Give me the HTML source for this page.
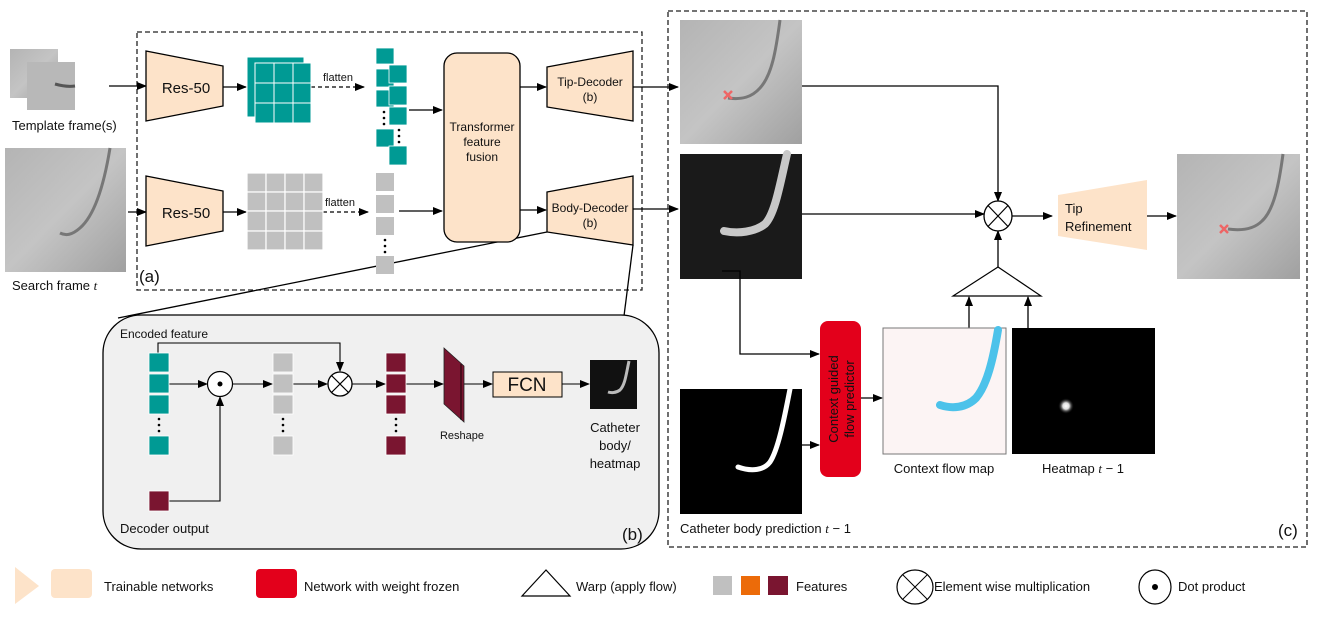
<!DOCTYPE html>
<html><head><meta charset="utf-8"><style>
html,body{margin:0;padding:0;background:#fff}
svg{display:block}
text{font-family:"Liberation Sans",Arial,sans-serif;fill:#111}
</style></head><body>
<svg width="1331" height="620" viewBox="0 0 1331 620" xmlns="http://www.w3.org/2000/svg">
<defs>
<marker id="ar" markerWidth="10" markerHeight="10" refX="9" refY="5" orient="auto" markerUnits="userSpaceOnUse">
<path d="M0,1 L10,5 L0,9 z" fill="#000"/></marker>
<radialGradient id="glow"><stop offset="0" stop-color="#fff"/><stop offset="0.4" stop-color="#ddd"/><stop offset="1" stop-color="#000" stop-opacity="0"/></radialGradient>
<linearGradient id="xr" x1="0" y1="0" x2="1" y2="1"><stop offset="0" stop-color="#b4b4b4"/><stop offset="0.5" stop-color="#c4c4c4"/><stop offset="1" stop-color="#a0a0a0"/></linearGradient>
<g id="otimes"><ellipse cx="0" cy="0" rx="12" ry="12" fill="#fff" stroke="#000" stroke-width="1.3"/><path d="M-8.5,-8.5 L8.5,8.5 M8.5,-8.5 L-8.5,8.5" stroke="#000" stroke-width="1.2"/></g>
</defs>

<!-- Panel (a) -->
<rect x="137" y="32" width="505" height="258" fill="none" stroke="#222" stroke-width="1.3" stroke-dasharray="5,3"/>
<text x="139" y="282" font-size="17">(a)</text>

<!-- template images -->
<rect x="10" y="49" width="48" height="49" fill="url(#xr)"/>
<rect x="27" y="62" width="48" height="48" fill="#b8b8b8"/>
<path d="M55,84 C62,86 68,87 75,86" stroke="#555" stroke-width="3" fill="none"/>
<text x="12" y="130" font-size="13">Template frame(s)</text>
<!-- search image -->
<rect x="5" y="148" width="121" height="124" fill="url(#xr)"/>
<path d="M110,148 C104,185 95,215 80,228 C72,235 66,236 60,233" stroke="#777" stroke-width="3" fill="none"/>
<text x="12" y="290" font-size="13">Search frame <tspan font-family="Liberation Serif" font-style="italic">t</tspan></text>

<g stroke="#000" stroke-width="1.3" fill="none">
<line x1="109" y1="86" x2="146" y2="86" marker-end="url(#ar)"/>
<line x1="128" y1="212" x2="146" y2="212" marker-end="url(#ar)"/>
<line x1="223" y1="87" x2="246" y2="87" marker-end="url(#ar)"/>
<line x1="223" y1="212" x2="246" y2="212" marker-end="url(#ar)"/>
<line x1="311" y1="87" x2="364" y2="87" stroke-dasharray="4,3" marker-end="url(#ar)"/>
<line x1="323" y1="212" x2="368" y2="212" stroke-dasharray="4,3" marker-end="url(#ar)"/>
<line x1="409" y1="110" x2="442" y2="110" marker-end="url(#ar)"/>
<line x1="399" y1="211" x2="442" y2="211" marker-end="url(#ar)"/>
<line x1="520" y1="87" x2="546" y2="87" marker-end="url(#ar)"/>
<line x1="520" y1="210" x2="546" y2="210" marker-end="url(#ar)"/>
<line x1="633" y1="87" x2="678" y2="87" marker-end="url(#ar)"/>
<line x1="633" y1="209" x2="678" y2="209" marker-end="url(#ar)"/>
<line x1="547" y1="232" x2="118" y2="318"/>
<line x1="633" y1="245" x2="624" y2="316"/>
</g>

<!-- Res-50 -->
<polygon points="146,51 223,66 223,106 146,121" fill="#fde3c9" stroke="#000" stroke-width="1.3"/>
<text x="186" y="93" font-size="15" text-anchor="middle">Res-50</text>
<polygon points="146,176 223,191 223,231 146,246" fill="#fde3c9" stroke="#000" stroke-width="1.3"/>
<text x="186" y="218" font-size="15" text-anchor="middle">Res-50</text>

<!-- teal grids -->
<g fill="#009a94" stroke="#fff" stroke-width="1">
<rect x="247" y="57" width="57" height="60"/>
<rect x="255" y="63" width="19" height="20"/><rect x="274" y="63" width="19" height="20"/><rect x="293" y="63" width="18" height="20"/>
<rect x="255" y="83" width="19" height="20"/><rect x="274" y="83" width="19" height="20"/><rect x="293" y="83" width="18" height="20"/>
<rect x="255" y="103" width="19" height="20"/><rect x="274" y="103" width="19" height="20"/><rect x="293" y="103" width="18" height="20"/>
</g>
<text x="323" y="81" font-size="11">flatten</text>
<!-- gray grid -->
<g fill="#c0c0c0" stroke="#fff" stroke-width="1.2">
<rect x="247" y="173" width="19" height="19"/><rect x="266" y="173" width="19" height="19"/><rect x="285" y="173" width="19" height="19"/><rect x="304" y="173" width="19" height="19"/>
<rect x="247" y="192" width="19" height="19"/><rect x="266" y="192" width="19" height="19"/><rect x="285" y="192" width="19" height="19"/><rect x="304" y="192" width="19" height="19"/>
<rect x="247" y="211" width="19" height="20"/><rect x="266" y="211" width="19" height="20"/><rect x="285" y="211" width="19" height="20"/><rect x="304" y="211" width="19" height="20"/>
<rect x="247" y="231" width="19" height="19"/><rect x="266" y="231" width="19" height="19"/><rect x="285" y="231" width="19" height="19"/><rect x="304" y="231" width="19" height="19"/>
</g>
<text x="325" y="206" font-size="11">flatten</text>

<!-- teal columns -->
<g fill="#009a94" stroke="#fff" stroke-width="0.8">
<rect x="376" y="48" width="18" height="16"/><rect x="376" y="69" width="18" height="18"/><rect x="376" y="90" width="18" height="17"/><rect x="376" y="129" width="18" height="18"/>
<rect x="389" y="65" width="18" height="18"/><rect x="389" y="86" width="18" height="19"/><rect x="389" y="107" width="18" height="18"/><rect x="389" y="146" width="18" height="19"/>
</g>
<g fill="#000"><circle cx="384" cy="112" r="1.3"/><circle cx="384" cy="118" r="1.3"/><circle cx="384" cy="124" r="1.3"/>
<circle cx="399" cy="130" r="1.3"/><circle cx="399" cy="136" r="1.3"/><circle cx="399" cy="142" r="1.3"/></g>
<!-- gray column -->
<g fill="#c0c0c0"><rect x="376" y="173" width="18" height="18"/><rect x="376" y="195" width="18" height="18"/><rect x="376" y="217" width="18" height="18"/><rect x="376" y="256" width="18" height="18"/></g>
<g fill="#000"><circle cx="385" cy="240" r="1.3"/><circle cx="385" cy="246" r="1.3"/><circle cx="385" cy="252" r="1.3"/></g>

<!-- Transformer -->
<rect x="444" y="53" width="76" height="189" rx="13" fill="#fde3c9" stroke="#000" stroke-width="1.3"/>
<text x="482" y="131" font-size="12" text-anchor="middle">Transformer</text>
<text x="482" y="146" font-size="12" text-anchor="middle">feature</text>
<text x="482" y="161" font-size="12" text-anchor="middle">fusion</text>

<!-- Decoders -->
<polygon points="547,67 633,51 633,121 547,107" fill="#fde3c9" stroke="#000" stroke-width="1.3"/>
<text x="590" y="86" font-size="12" text-anchor="middle">Tip-Decoder</text>
<text x="590" y="101" font-size="12" text-anchor="middle">(b)</text>
<polygon points="547,192 633,176 633,245 547,232" fill="#fde3c9" stroke="#000" stroke-width="1.3"/>
<text x="590" y="212" font-size="12" text-anchor="middle">Body-Decoder</text>
<text x="590" y="227" font-size="12" text-anchor="middle">(b)</text>

<!-- Panel (b) -->
<rect x="103" y="315" width="556" height="234" rx="38" fill="#f0f0f0" stroke="#000" stroke-width="1.3"/>
<text x="120" y="338" font-size="12">Encoded feature</text>
<text x="120" y="533" font-size="13">Decoder output</text>
<text x="622" y="540" font-size="17">(b)</text>
<g stroke="#000" stroke-width="1.1" fill="none">
<polyline points="158,353 158,343 340,343 340,371" marker-end="url(#ar)"/>
<line x1="169" y1="384" x2="207" y2="384" marker-end="url(#ar)"/>
<polyline points="169,501 220,501 220,397" marker-end="url(#ar)"/>
<line x1="233" y1="384" x2="272" y2="384" marker-end="url(#ar)"/>
<line x1="293" y1="384" x2="327" y2="384" marker-end="url(#ar)"/>
<line x1="352" y1="384" x2="385" y2="384" marker-end="url(#ar)"/>
<line x1="406" y1="384" x2="443" y2="384" marker-end="url(#ar)"/>
<line x1="464" y1="384" x2="492" y2="384" marker-end="url(#ar)"/>
<line x1="562" y1="384" x2="589" y2="384" marker-end="url(#ar)"/>
</g>
<g fill="#009a94" stroke="#fff" stroke-width="0.8"><rect x="149" y="353" width="20" height="19"/><rect x="149" y="374" width="20" height="19"/><rect x="149" y="395" width="20" height="19"/><rect x="149" y="436" width="20" height="19"/></g>
<g fill="#c0c0c0" stroke="#fff" stroke-width="0.8"><rect x="273" y="353" width="20" height="19"/><rect x="273" y="374" width="20" height="19"/><rect x="273" y="395" width="20" height="19"/><rect x="273" y="436" width="20" height="19"/></g>
<g fill="#7a1530" stroke="#fff" stroke-width="0.8"><rect x="386" y="353" width="20" height="19"/><rect x="386" y="374" width="20" height="19"/><rect x="386" y="395" width="20" height="19"/><rect x="386" y="436" width="20" height="19"/>
<rect x="149" y="491" width="20" height="20"/></g>
<g fill="#000"><circle cx="159" cy="419" r="1.3"/><circle cx="159" cy="425" r="1.3"/><circle cx="159" cy="431" r="1.3"/>
<circle cx="283" cy="419" r="1.3"/><circle cx="283" cy="425" r="1.3"/><circle cx="283" cy="431" r="1.3"/>
<circle cx="396" cy="419" r="1.3"/><circle cx="396" cy="425" r="1.3"/><circle cx="396" cy="431" r="1.3"/></g>
<circle cx="220" cy="384" r="12.5" fill="#fff" stroke="#000" stroke-width="1.2"/><circle cx="220" cy="384" r="2.5" fill="#000"/>
<use href="#otimes" x="340" y="384"/>
<polygon points="444,348 464,366 464,422 444,404" fill="#7a1530" stroke="#222" stroke-width="0.8"/>
<line x1="461" y1="364" x2="461" y2="420" stroke="#000" stroke-width="0.8"/>
<text x="462" y="439" font-size="11" text-anchor="middle">Reshape</text>
<rect x="493" y="372" width="69" height="25" fill="#fde3c9" stroke="#000" stroke-width="1"/>
<text x="527" y="391" font-size="19" text-anchor="middle">FCN</text>
<rect x="590" y="360" width="47" height="49" fill="#111"/>
<path d="M629,361 C626,375 625,385 620,390 C616,393 611,393 608,392" stroke="#bbb" stroke-width="3" fill="none"/>
<text x="615" y="432" font-size="13" text-anchor="middle">Catheter</text>
<text x="615" y="450" font-size="13" text-anchor="middle">body/</text>
<text x="615" y="468" font-size="13" text-anchor="middle">heatmap</text>

<!-- Panel (c) -->
<rect x="668" y="11" width="639" height="536" fill="none" stroke="#222" stroke-width="1.3" stroke-dasharray="5,3"/>
<text x="1278" y="536" font-size="17">(c)</text>
<!-- tip image -->
<rect x="680" y="20" width="122" height="124" fill="url(#xr)"/>
<path d="M780,20 C776,50 772,75 760,88 C752,97 742,100 728,98" stroke="#777" stroke-width="3" fill="none"/>
<path d="M724,91 L732,99 M732,91 L724,99" stroke="#e66" stroke-width="2.5"/>
<!-- body image -->
<rect x="680" y="154" width="122" height="125" fill="#1a1a1a"/>
<path d="M787,154 C780,184 775,214 765,224 C755,232 738,234 724,231" stroke="#c8c8c8" stroke-width="8" stroke-linecap="round" fill="none"/>
<!-- final image -->
<rect x="1177" y="154" width="123" height="125" fill="url(#xr)"/>
<path d="M1283,154 C1279,184 1274,210 1262,221 C1254,229 1242,231 1228,229" stroke="#777" stroke-width="3" fill="none"/>
<path d="M1220,225 L1228,233 M1228,225 L1220,233" stroke="#e66" stroke-width="2.5"/>

<g stroke="#000" stroke-width="1.3" fill="none">
<polyline points="802,86 998,86 998,201" marker-end="url(#ar)"/>
<line x1="802" y1="214" x2="984" y2="214" marker-end="url(#ar)"/>
<line x1="1012" y1="216" x2="1052" y2="216" marker-end="url(#ar)"/>
<line x1="1147" y1="216" x2="1176" y2="216" marker-end="url(#ar)"/>
<line x1="998" y1="267" x2="998" y2="231" marker-end="url(#ar)"/>
<line x1="969" y1="328" x2="969" y2="297" marker-end="url(#ar)"/>
<line x1="1028" y1="328" x2="1028" y2="297" marker-end="url(#ar)"/>
<polyline points="722,271 740,271 740,354 819,354" marker-end="url(#ar)"/>
<line x1="802" y1="445" x2="819" y2="445" marker-end="url(#ar)"/>
<line x1="861" y1="398" x2="882" y2="398" marker-end="url(#ar)"/>
</g>
<g transform="translate(998,216)"><ellipse rx="14" ry="15" fill="#fff" stroke="#000" stroke-width="1.3"/><path d="M-10,-10.5 L10,10.5 M10,-10.5 L-10,10.5" stroke="#000" stroke-width="1.2"/></g>
<polygon points="998,267 953,296 1041,296" fill="#fff" stroke="#000" stroke-width="1.2"/>
<polygon points="1058,195 1147,180 1147,250 1058,236" fill="#fde3c9"/>
<text x="1065" y="213" font-size="13">Tip</text>
<text x="1065" y="231" font-size="13">Refinement</text>

<rect x="820" y="321" width="41" height="156" rx="8" fill="#e3001b"/>
<text transform="translate(838,399) rotate(-90)" font-size="13" text-anchor="middle">Context guided</text>
<text transform="translate(854,399) rotate(-90)" font-size="13" text-anchor="middle">flow predictor</text>

<rect x="680" y="389" width="122" height="125" fill="#000"/>
<path d="M790,389 C784,420 778,450 770,462 C764,470 752,472 738,467" stroke="#fff" stroke-width="5" stroke-linecap="round" fill="none"/>

<rect x="883" y="328" width="123" height="126" fill="#fcf4f4" stroke="#777" stroke-width="1"/>
<path d="M998,330 C993,360 987,385 976,398 C966,408 952,409 940,405" stroke="#4cc2ea" stroke-width="8" stroke-linecap="round" fill="none"/>
<rect x="1012" y="328" width="143" height="126" fill="#000"/>
<circle cx="1066" cy="406" r="8" fill="url(#glow)"/>

<text x="944" y="473" font-size="13" text-anchor="middle">Context flow map</text>
<text x="1083" y="473" font-size="13" text-anchor="middle">Heatmap <tspan font-family="Liberation Serif" font-style="italic">t</tspan> − 1</text>
<text x="680" y="533" font-size="13">Catheter body prediction <tspan font-family="Liberation Serif" font-style="italic">t</tspan> − 1</text>

<!-- Legend -->
<polygon points="15,567 39,586 15,604" fill="#fde3c9"/>
<rect x="51" y="569" width="41" height="29" rx="4" fill="#fde3c9"/>
<text x="104" y="591" font-size="13">Trainable networks</text>
<rect x="256" y="569" width="41" height="29" rx="4" fill="#e3001b"/>
<text x="304" y="591" font-size="13">Network with weight frozen</text>
<polygon points="546,570 522,596 570,596" fill="#fff" stroke="#000" stroke-width="1.2"/>
<text x="576" y="591" font-size="13">Warp (apply flow)</text>
<rect x="713" y="576" width="19" height="19" fill="#c0c0c0"/>
<rect x="741" y="576" width="19" height="19" fill="#ec6b09"/>
<rect x="768" y="576" width="20" height="19" fill="#7a1530"/>
<text x="796" y="591" font-size="13">Features</text>
<g transform="translate(915,587)"><ellipse rx="18" ry="17" fill="#fff" stroke="#000" stroke-width="1.2"/><path d="M-12,-12 L12,12 M12,-12 L-12,12" stroke="#000" stroke-width="1"/></g>
<text x="934" y="591" font-size="13">Element wise multiplication</text>
<ellipse cx="1155" cy="587" rx="16" ry="17" fill="#fff" stroke="#000" stroke-width="1.2"/><circle cx="1155" cy="587" r="3" fill="#000"/>
<text x="1178" y="591" font-size="13">Dot product</text>
</svg>
</body></html>
